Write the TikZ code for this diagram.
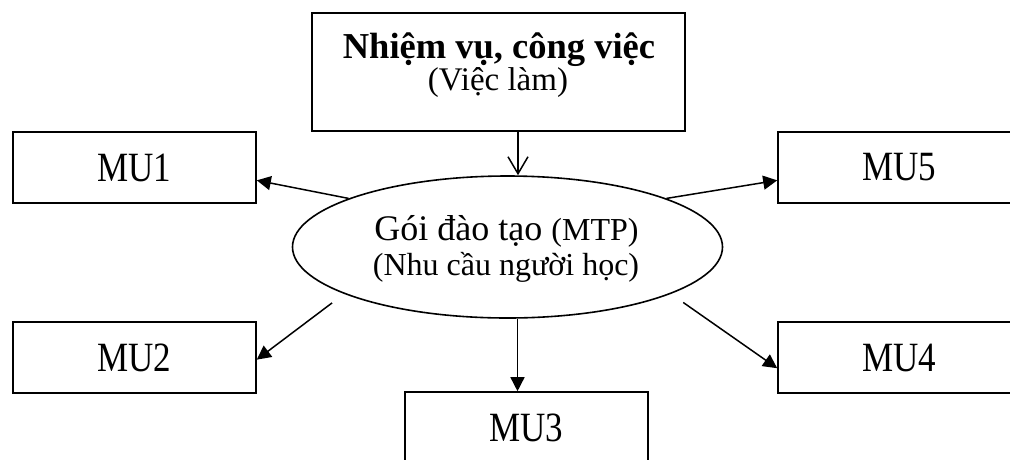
\documentclass[tikz,border=0pt]{standalone}
\usepackage{fontspec}
\usepackage{graphicx}
\setmainfont{Liberation Serif}
\usetikzlibrary{arrows.meta,shapes.geometric,calc}

% module labels are set a little taller than wide
\newcommand{\tall}[1]{\scalebox{1}[1.19]{#1}}

\tikzset{
  mubox/.style={draw, line width=1.6pt, minimum width=243pt, minimum height=71pt,
                inner sep=0pt, font=\fontsize{35}{40}\selectfont},
  arr/.style={line width=1.5pt, -{Triangle[length=14pt,width=14pt]}},
  txt/.style={anchor=base, inner sep=0pt},
}

\begin{document}
\begin{tikzpicture}[x=1pt,y=-1pt]
  \useasboundingbox (0,0) rectangle (1010,459);

  % task box at the top
  \node[draw, line width=1.6pt, minimum width=373pt, minimum height=118pt, inner sep=0pt]
    (task) at (498.5,72) {};
  \node[txt, font=\fontsize{36.5}{40}\selectfont\bfseries] (title) at (499,58)
    {Nhiệm vụ, công việc};
  \node[txt, font=\fontsize{33}{38}\selectfont] (subtitle) at (498,90.5)
    {(Việc làm)};

  % central ellipse
  \node[draw, ellipse, line width=1.6pt, minimum width=430pt, minimum height=142pt,
        inner sep=0pt] (pkg) at (507.5,247) {};
  \node[txt, font=\fontsize{36}{42}\selectfont] (pkgline1) at (506.5,240)
    {Gói đào tạo {\fontsize{32}{38}\selectfont(MTP)}};
  \node[txt, font=\fontsize{32}{36}\selectfont] (pkgline2) at (506,275)
    {(Nhu cầu người học)};

  % module boxes
  \node[mubox] (mu1) at (134.5,167.5) {\tall{MU1}};
  \node[mubox] (mu2) at (134.5,357.5) {\tall{MU2}};
  \node[mubox] (mu3) at (526.5,427.5) {\tall{MU3}};
  \node[mubox] (mu4) at (899.5,357.5) {\tall{MU4}};
  \node[mubox] (mu5) at (899.5,167.5) {\tall{MU5}};

  % connectors
  \draw[line width=1.5pt, -{Straight Barb[length=17pt,width=20pt]}]
    ($(task.south)+(19.5,0)$) -- ($(pkg.north)+(10.5,0)$);
  \draw[arr] (pkg.163) -- (mu1.-6);
  \draw[arr, shorten <=15pt] (pkg.196) -- (mu2.-1);
  \draw[arr] ($(pkg.south)+(10,0)$) -- ($(mu3.north)+(-9,0)$);
  \draw[arr, shorten <=15pt] (pkg.-16) -- (mu4.185);
  \draw[arr] (pkg.17) -- (mu5.186);
\end{tikzpicture}
\end{document}
